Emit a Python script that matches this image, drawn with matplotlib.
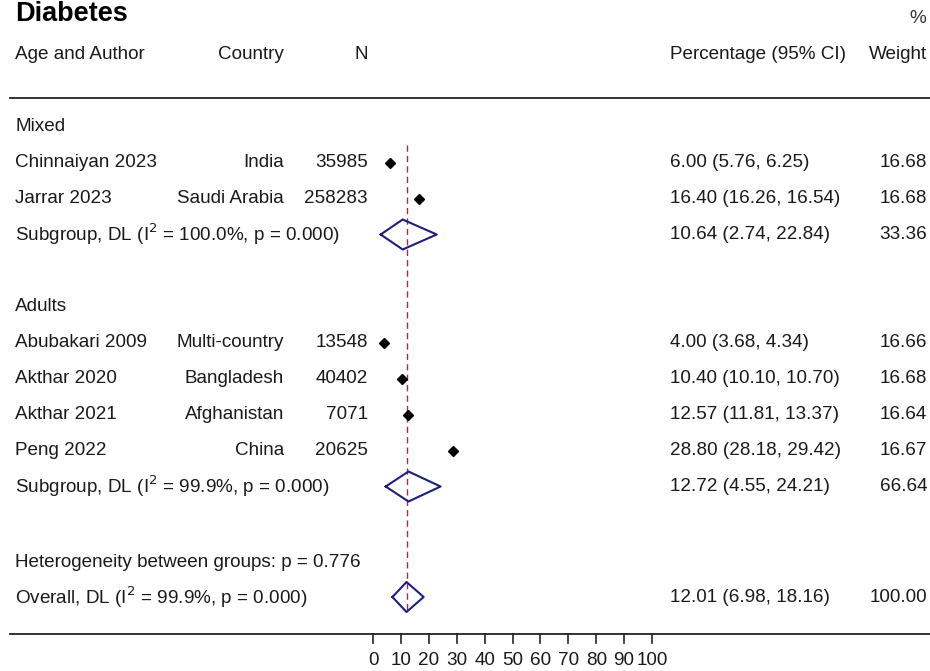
import matplotlib
matplotlib.use("Agg")
import matplotlib.pyplot as plt
import numpy as np

plt.rcParams['font.family'] = ['Liberation Sans', 'DejaVu Sans']

# ---------------- data ----------------
groups = ["Mixed", "Adults"]
authors = [["Chinnaiyan 2023", "Jarrar 2023"],
           ["Abubakari 2009", "Akthar 2020", "Akthar 2021", "Peng 2022"]]
countries = [["India", "Saudi Arabia"],
             ["Multi-country", "Bangladesh", "Afghanistan", "China"]]
n_values = [[35985, 258283], [13548, 40402, 7071, 20625]]
est = [[6.00, 16.40], [4.00, 10.40, 12.57, 28.80]]
lo = [[5.76, 16.26], [3.68, 10.10, 11.81, 28.18]]
hi = [[6.25, 16.54], [4.34, 10.70, 13.37, 29.42]]
weights = [[16.68, 16.68], [16.66, 16.68, 16.64, 16.67]]

sub_labels = ["Subgroup, DL (I$^{2}$ = 100.0%, p = 0.000)",
              "Subgroup, DL (I$^{2}$ = 99.9%, p = 0.000)"]
sub_est = [10.64, 12.72]
sub_lo = [2.74, 4.55]
sub_hi = [22.84, 24.21]
sub_w = [33.36, 66.64]

het_label = "Heterogeneity between groups: p = 0.776"
overall_label = "Overall, DL (I$^{2}$ = 99.9%, p = 0.000)"
overall_est, overall_lo, overall_hi, overall_w = 12.01, 6.98, 18.16, 100.00

xticks = [0, 10, 20, 30, 40, 50, 60, 70, 80, 90, 100]

# ---------------- layout ----------------
W, H = 930, 671
fig = plt.figure(figsize=(W / 100, H / 100), dpi=100)
ax = fig.add_axes([0, 0, 1, 1])
ax.axis("off")

X0, PXU = 373.0, 2.79      # pixel of value 0, pixels per unit
Y0, PXR = 126.5, 36.0      # pixel of row 0, pixels per row
ax.set_xlim(-X0 / PXU, (W - X0) / PXU)
ax.set_ylim((H - Y0) / PXR, -Y0 / PXR)


def px(x):
    return (x - X0) / PXU


def py(y):
    return (y - Y0) / PXR


FS = 13.6
navy = "#1e1e7c"
maroon = "#9c3044"
ink = "#1a1a1a"

# title & headers
ax.text(px(15), py(14), "Diabetes", fontsize=19.5, fontweight="bold", va="center", ha="left", color="black")
ax.text(px(926), py(18), "%", fontsize=FS, va="center", ha="right", color="#333333")
hy = py(54)
ax.text(px(15), hy, "Age and Author", fontsize=FS, va="center", ha="left", color=ink)
ax.text(px(284), hy, "Country", fontsize=FS, va="center", ha="right", color=ink)
ax.text(px(368), hy, "N", fontsize=FS, va="center", ha="right", color=ink)
ax.text(px(670), hy, "Percentage (95% CI)", fontsize=FS, va="center", ha="left", color=ink)
ax.text(px(927), hy, "Weight", fontsize=FS, va="center", ha="right", color=ink)
ax.plot([px(10), px(930)], [py(98), py(98)], color="#222222", lw=1.3)

# overall dashed line
ax.plot([overall_est, overall_est], [0.5, 13.5], color=maroon, lw=1.0,
        ls=(0, (4.5, 3)), zorder=1)


def diamond(c, l, h, r):
    hh = 15 / PXR
    ax.plot([l, c, h, c, l], [r, r - hh, r, r + hh, r], color=navy, lw=1.5, zorder=3)


row = 0
for g in range(len(groups)):
    ax.text(px(15), row, groups[g], fontsize=FS, va="center", ha="left", color=ink)
    row += 1
    for i in range(len(authors[g])):
        ax.text(px(15), row, authors[g][i], fontsize=FS, va="center", ha="left", color=ink)
        ax.text(px(284), row, countries[g][i], fontsize=FS, va="center", ha="right", color=ink)
        ax.text(px(368), row, str(n_values[g][i]), fontsize=FS, va="center", ha="right", color=ink)
        ax.plot([lo[g][i], hi[g][i]], [row, row], color="black", lw=1, zorder=3)
        ax.plot(est[g][i], row, marker="D", color="black", ms=5, zorder=4)
        ax.text(px(670), row, f"{est[g][i]:.2f} ({lo[g][i]:.2f}, {hi[g][i]:.2f})",
                fontsize=FS, va="center", ha="left", color=ink)
        ax.text(px(927), row, f"{weights[g][i]:.2f}", fontsize=FS, va="center", ha="right", color=ink)
        row += 1
    ax.text(px(15), row, sub_labels[g], fontsize=FS, va="center", ha="left", color=ink)
    diamond(sub_est[g], sub_lo[g], sub_hi[g], row)
    ax.text(px(670), row, f"{sub_est[g]:.2f} ({sub_lo[g]:.2f}, {sub_hi[g]:.2f})",
            fontsize=FS, va="center", ha="left", color=ink)
    ax.text(px(927), row, f"{sub_w[g]:.2f}", fontsize=FS, va="center", ha="right", color=ink)
    row += 2

ax.text(px(15), py(562), het_label, fontsize=FS, va="center", ha="left", color=ink)
orow = py(597)
ax.text(px(15), orow, overall_label, fontsize=FS, va="center", ha="left", color=ink)
diamond(overall_est, overall_lo, overall_hi, orow)
ax.text(px(670), orow, f"{overall_est:.2f} ({overall_lo:.2f}, {overall_hi:.2f})",
        fontsize=FS, va="center", ha="left", color=ink)
ax.text(px(927), orow, f"{overall_w:.2f}", fontsize=FS, va="center", ha="right", color=ink)

# bottom axis
ly = py(634)
ax.plot([px(10), px(930)], [ly, ly], color="#222222", lw=1.3)
for t in xticks:
    ax.plot([t, t], [ly, py(643)], color="#222222", lw=1.2)
    ax.text(t, py(660), str(t), fontsize=FS, va="center", ha="center", color=ink)

fig.savefig("out.png", dpi=100, facecolor="white")
